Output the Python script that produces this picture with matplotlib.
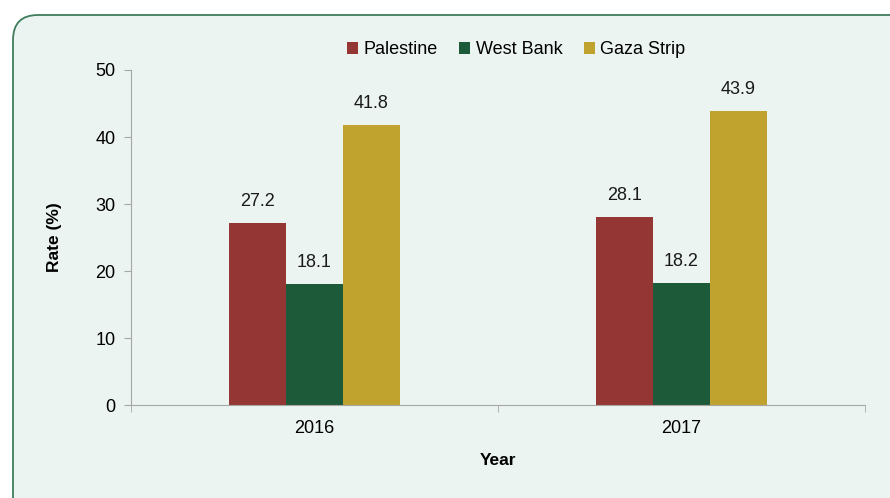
import numpy as np
import matplotlib.pyplot as plt
from matplotlib.patches import FancyBboxPatch

plt.rcParams['font.family'] = ['Liberation Sans', 'DejaVu Sans']

years = ['2016', '2017']
series = ['Palestine', 'West Bank', 'Gaza Strip']
palestine = [27.2, 28.1]
west_bank = [18.1, 18.2]
gaza = [41.8, 43.9]
colores = ['#943634', '#1D5A3A', '#C0A22E']

fig = plt.figure(figsize=(8.9, 4.98), dpi=100)
fig.patch.set_facecolor('white')

# caja redondeada de fondo (en pixeles)
caja = FancyBboxPatch((13, -40), 950, 40 + 498 - 15,
                      boxstyle='round,pad=0,rounding_size=25',
                      transform=None, facecolor='#EBF4F0', edgecolor='#3F7D5C',
                      linewidth=1.3, zorder=-5)
fig.patches.append(caja)

ax = fig.add_axes([131/890, 1 - 405/498, (865 - 131)/890, (405 - 70)/498])
ax.set_facecolor('none')
ax.set_zorder(2)

x = np.arange(len(years))
w = 0.155
valores = [palestine, west_bank, gaza]
for i, (nombre, vals) in enumerate(zip(series, valores)):
    barras = ax.bar(x + (i - 1) * w, vals, w, color=colores[i], label=nombre, zorder=2)
    for b, v in zip(barras, vals):
        ax.text(b.get_x() + b.get_width() / 2, v + 1.9, f'{v}', ha='center', va='bottom',
                fontsize=13, color='#1a1a1a')

ax.set_xlim(-0.5, 1.5)
ax.set_ylim(0, 50)
ax.set_yticks(np.arange(0, 51, 10))
ax.set_xticks(x)
ax.set_xticklabels(years)
ax.set_xticks([-0.5, 0.5, 1.5], minor=True)
ax.tick_params(axis='x', which='major', length=0, pad=11, labelsize=13)
ax.tick_params(axis='x', which='minor', length=5, color='#A6A6A6', direction='out')
ax.tick_params(axis='y', length=5, color='#A6A6A6', labelsize=13, pad=6)

for s in ['top', 'right']:
    ax.spines[s].set_visible(False)
for s in ['left', 'bottom']:
    ax.spines[s].set_color('#A6A6A6')

ax.set_ylabel('Rate (%)', fontsize=12.5, fontweight='bold', labelpad=24)
ax.set_xlabel('Year', fontsize=12.5, fontweight='bold', labelpad=11)

ax.legend(loc='lower center', bbox_to_anchor=(0.525, 1.0), ncol=3, frameon=False,
          fontsize=13, handlelength=0.6, handleheight=0.6, handletextpad=0.3,
          columnspacing=1.2, borderaxespad=0.25)

fig.savefig('out.png', dpi=100)
